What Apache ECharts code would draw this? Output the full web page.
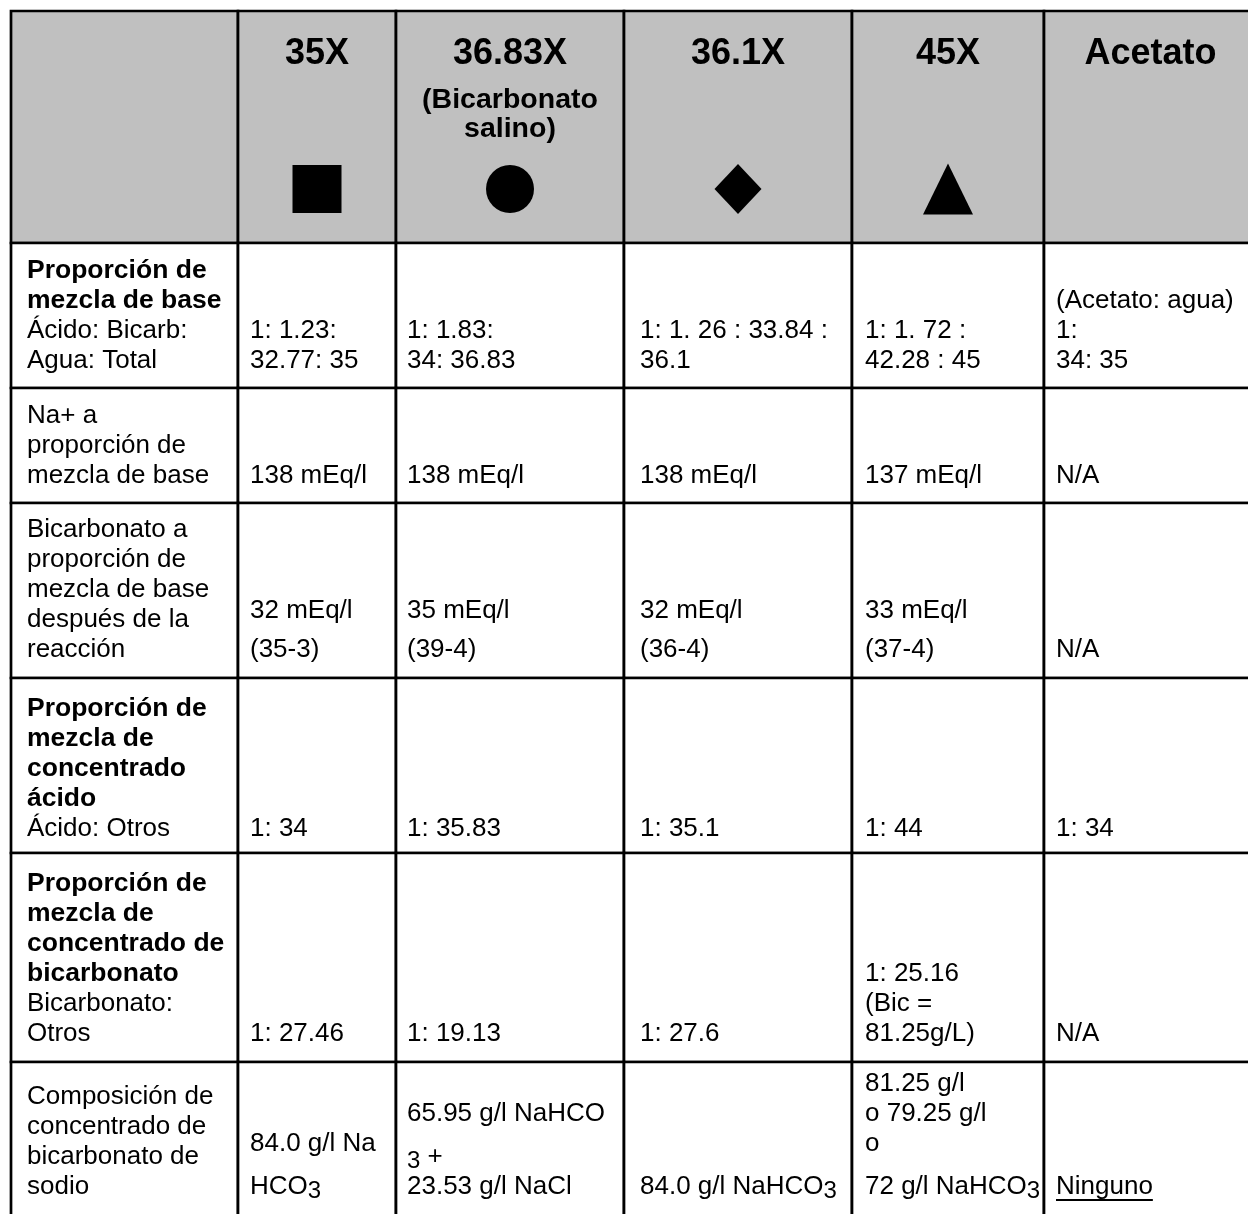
<!DOCTYPE html>
<html>
<head>
<meta charset="utf-8">
<script src="https://cdn.jsdelivr.net/npm/echarts@6/dist/echarts.min.js"></script>
<style>
  html, body { margin: 0; padding: 0; background: #fff; }
  #chart { width: 1248px; height: 1214px; }
</style>
</head>
<body>
<div id="chart"></div>
<script>
// table content
const columns = ['35X', '36.83X', '36.1X', '45X', 'Acetato'];
const columnNotes = ['', '(Bicarbonato\nsalino)', '', '', ''];
const columnSymbols = ['rect', 'circle', 'diamond', 'triangle', ''];
const rowTitles = [
  'Proporción de\nmezcla de base',
  '',
  '',
  'Proporción de\nmezcla de\nconcentrado\nácido',
  'Proporción de\nmezcla de\nconcentrado de\nbicarbonato',
  ''
];
const rowNotes = [
  'Ácido: Bicarb:\nAgua: Total',
  'Na+ a\nproporción de\nmezcla de base',
  'Bicarbonato a\nproporción de\nmezcla de base\ndespués de la\nreacción',
  'Ácido: Otros',
  'Bicarbonato:\nOtros',
  'Composición de\nconcentrado de\nbicarbonato de\nsodio'
];
const values35X = ['1: 1.23:\n32.77: 35', '138 mEq/l', '32 mEq/l\n(35-3)', '1: 34', '1: 27.46', '84.0 g/l Na\nHCO{s|3}'];
const values3683X = ['1: 1.83:\n34: 36.83', '138 mEq/l', '35 mEq/l\n(39-4)', '1: 35.83', '1: 19.13', '65.95 g/l NaHCO\n{s|3} +\n23.53 g/l NaCl'];
const values361X = ['1: 1. 26 : 33.84 :\n36.1', '138 mEq/l', '32 mEq/l\n(36-4)', '1: 35.1', '1: 27.6', '84.0 g/l NaHCO{s|3}'];
const values45X = ['1: 1. 72 :\n42.28 : 45', '137 mEq/l', '33 mEq/l\n(37-4)', '1: 44', '1: 25.16\n(Bic =\n81.25g/L)', '81.25 g/l\no 79.25 g/l\no\n72 g/l NaHCO{s|3}'];
const valuesAcetato = ['(Acetato: agua)\n1:\n34: 35', 'N/A', 'N/A', '1: 34', 'N/A', '{u|Ninguno}'];
const columnValues = [values35X, values3683X, values361X, values45X, valuesAcetato];

// layout
const FONT = '"Liberation Sans", Arial, Helvetica, sans-serif';
const colEdges = [11, 238, 396, 624, 852, 1044, 1257];
const rowEdges = [11, 243, 388, 503, 678, 853, 1062, 1224];
const rowPad = [18, 18, 19, 15, 19, 28];
const colPad = [16, 12, 11, 16, 13, 12];
const bodySize = 26, boldSize = 26.5, lineGap = 30, subGap = 43, paraGap = 39;
const headSize = 36, headNoteSize = 28.5;
const headBase = 67, headNoteBase = [110, 139];
const symbolY = 189;
const symbolSizes = { rect: [49, 48], circle: 48, diamond: [47, 50], triangle: [50, 51] };
const border = 2.7;

const measure = document.createElement('canvas').getContext('2d');
function textWidth(t, size, weight) {
  measure.font = weight + ' ' + size + 'px ' + FONT;
  return measure.measureText(t).width;
}
function tokens(line) {
  const out = [];
  const re = /\{(s|u)\|([^}]*)\}/g;
  let last = 0, m;
  while ((m = re.exec(line))) {
    if (m.index > last) out.push({ text: line.slice(last, m.index), kind: '' });
    out.push({ text: m[2], kind: m[1] });
    last = re.lastIndex;
  }
  if (last < line.length) out.push({ text: line.slice(last), kind: '' });
  return out;
}

function lineEls(api, line, x, baseline, size, weight, center) {
  const toks = tokens(line).map(t => {
    const fs = t.kind === 's' ? 24 : size;
    return Object.assign(t, { fs: fs, w: textWidth(t.text, fs, weight) });
  });
  const total = toks.reduce((a, t) => a + t.w, 0);
  let cx = center ? x - total / 2 : x;
  const els = [];
  toks.forEach(t => {
    const dy = t.kind === 's' ? 4 : 0;
    const p = api.coord([cx, baseline + dy - 0.35 * t.fs]);
    els.push({
      type: 'text',
      style: {
        text: t.text, x: p[0], y: p[1], fill: '#000',
        fontSize: t.fs, fontFamily: FONT, fontWeight: weight,
        align: 'left', verticalAlign: 'middle'
      }
    });
    if (t.kind === 'u') {
      const a = api.coord([cx, baseline + 4]);
      const b = api.coord([cx + t.w, baseline + 4]);
      els.push({ type: 'line', shape: { x1: a[0], y1: a[1], x2: b[0], y2: b[1] }, style: { stroke: '#000', lineWidth: 2 } });
    }
    cx += t.w;
  });
  return els;
}

const cells = [];
for (let r = 0; r < rowEdges.length - 1; r++) {
  for (let c = 0; c < colEdges.length - 1; c++) cells.push([r, c]);
}

function renderCell(params, api) {
  const r = api.value(0), c = api.value(1);
  const x0 = colEdges[c], x1 = colEdges[c + 1];
  const y0 = rowEdges[r], y1 = rowEdges[r + 1];
  const tl = api.coord([x0, y0]), br = api.coord([x1, y1]);
  const children = [{
    type: 'rect',
    shape: { x: tl[0], y: tl[1], width: br[0] - tl[0], height: br[1] - tl[1] },
    style: { fill: r === 0 ? '#c0c0c0' : '#fff', stroke: '#000', lineWidth: border }
  }];
  const mid = (x0 + x1) / 2;
  if (r === 0) {
    if (c > 0) {
      children.push(...lineEls(api, columns[c - 1], mid, headBase, headSize, 'bold', true));
      const notes = columnNotes[c - 1] ? columnNotes[c - 1].split('\n') : [];
      notes.forEach((ln, i) => children.push(...lineEls(api, ln, mid, headNoteBase[i], headNoteSize, 'bold', true)));
    }
  } else {
    const b = r - 1;
    let lines = [];
    if (c === 0) {
      if (rowTitles[b]) rowTitles[b].split('\n').forEach(t => lines.push({ t: t, w: 'bold' }));
      rowNotes[b].split('\n').forEach(t => lines.push({ t: t, w: 'normal' }));
    } else {
      columnValues[c - 1][b].split('\n').forEach(t => lines.push({ t: t, w: 'normal' }));
    }
    let base = y1 - rowPad[b];
    for (let i = lines.length - 1; i >= 0; i--) {
      const size = lines[i].w === 'bold' ? boldSize : bodySize;
      children.push(...lineEls(api, lines[i].t, x0 + colPad[c], base, size, lines[i].w, false));
      let gap = lineGap;
      if (lines[i].t.indexOf('{s|') >= 0) gap = subGap;
      else if (c > 0 && b === 2) gap = paraGap;
      base -= gap;
    }
  }
  return { type: 'group', children: children };
}

const symbolData = columnSymbols.map((s, i) => s ? {
  value: [(colEdges[i + 1] + colEdges[i + 2]) / 2, symbolY],
  symbol: s,
  symbolSize: symbolSizes[s]
} : null).filter(Boolean);

const chart = echarts.init(document.getElementById('chart'), null, { renderer: 'canvas' });
chart.setOption({
  animation: false,
  backgroundColor: '#fff',
  grid: { left: 0, right: 0, top: 0, bottom: 0 },
  xAxis: { type: 'value', min: 0, max: 1248, show: false },
  yAxis: { type: 'value', min: 0, max: 1214, inverse: true, show: false },
  series: [
    {
      type: 'custom',
      z: 1,
      clip: false,
      renderItem: renderCell,
      data: cells,
      silent: true
    },
    {
      type: 'scatter',
      z: 3,
      data: symbolData,
      itemStyle: { color: '#000', opacity: 1 },
      silent: true
    }
  ]
});
</script>
</body>
</html>
